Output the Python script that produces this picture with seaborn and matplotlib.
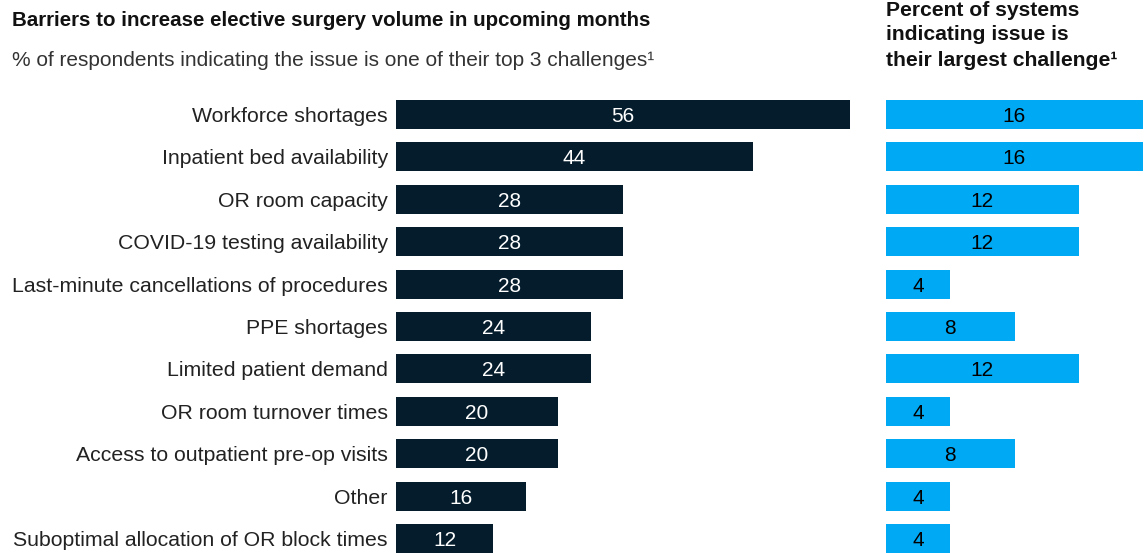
import pandas as pd
import seaborn as sns
import matplotlib.pyplot as plt

# Barrier categories and values
barriers = [
    'Workforce shortages',
    'Inpatient bed availability',
    'OR room capacity',
    'COVID-19 testing availability',
    'Last-minute cancellations of procedures',
    'PPE shortages',
    'Limited patient demand',
    'OR room turnover times',
    'Access to outpatient pre-op visits',
    'Other',
    'Suboptimal allocation of OR block times',
]
top3_pct = [56, 44, 28, 28, 28, 24, 24, 20, 20, 16, 12]
largest_pct = [16, 16, 12, 12, 4, 8, 12, 4, 8, 4, 4]

df = pd.DataFrame({'barrier': barriers, 'top3': top3_pct, 'largest': largest_pct})

sns.set_style('white')
plt.rcParams['font.family'] = ['Liberation Sans', 'DejaVu Sans']

W, H = 1147, 553
fig = plt.figure(figsize=(W / 100, H / 100), dpi=100)

# row centres at 114.5 ... 538.5 px from top, spacing 42.4
step = 42.4
top_px = 114.5 - step / 2
bottom_px = 538.5 + step / 2
ax_b = 1 - bottom_px / H
ax_h = (bottom_px - top_px) / H

navy = '#051c2c'
cyan = '#00a9f4'

ax1 = fig.add_axes([396 / W, ax_b, 454 / W, ax_h])
sns.barplot(data=df, y='barrier', x='top3', color=navy, saturation=1, width=0.684, ax=ax1, orient='h')
ax1.set_xlim(0, 56)
ax1.set_ylim(len(barriers) - 0.5, -0.5)
labels1 = ax1.bar_label(ax1.containers[0], label_type='center', color='white', fontsize=15)

ax2 = fig.add_axes([886 / W, ax_b, 257 / W, ax_h])
sns.barplot(data=df, y='barrier', x='largest', color=cyan, saturation=1, width=0.684, ax=ax2, orient='h')
ax2.set_xlim(0, 16)
ax2.set_ylim(len(barriers) - 0.5, -0.5)
labels2 = ax2.bar_label(ax2.containers[0], label_type='center', color='black', fontsize=15)
ax2.set_yticks([])

# nudge the numbers onto the bar centres
for t in list(labels1) + list(labels2):
    t.set_va('center_baseline')

for ax in (ax1, ax2):
    ax.set_xlabel('')
    ax.set_ylabel('')
    ax.set_xticks([])
    sns.despine(ax=ax, left=True, bottom=True)
    for b in ax.patches:
        b.set_linewidth(0)

ax1.tick_params(axis='y', length=0, pad=6, labelsize=15.3, labelcolor='#222222')

# titles
fig.text(12 / W, 1 - 21 / H, 'Barriers to increase elective surgery volume in upcoming months',
         fontsize=14.8, fontweight='bold', va='center', ha='left', color='#111111')
fig.text(12 / W, 1 - 60 / H, '% of respondents indicating the issue is one of their top 3 challenges¹',
         fontsize=15, va='center', ha='left', color='#333333')
right_title = ['Percent of systems', 'indicating issue is', 'their largest challenge¹']
for i, line in enumerate(right_title):
    fig.text(886 / W, 1 - (10 + 25 * i) / H, line,
             fontsize=15.2, fontweight='bold', va='center', ha='left', color='#111111')

fig.savefig('out.png', dpi=100)
